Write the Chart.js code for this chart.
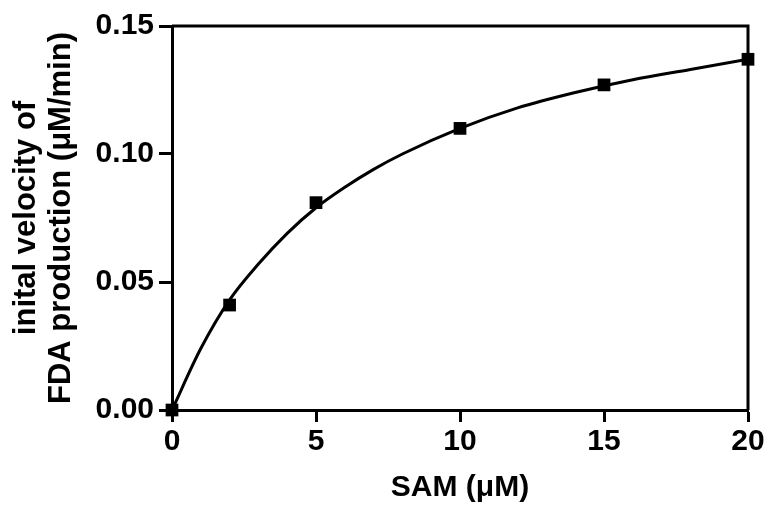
<!DOCTYPE html>
<html>
<head>
<meta charset="utf-8">
<script src="https://cdn.jsdelivr.net/npm/chart.js@4/dist/chart.umd.min.js"></script>
<style>
  html, body { margin: 0; padding: 0; background: #fff; }
  canvas { display: block; }
</style>
</head>
<body>
<canvas id="kinChart" width="768" height="508"></canvas>
<script>
// measured rates
const samConc = [0, 2, 5, 10, 15, 20];
const velocity = [0, 0.041, 0.081, 0.110, 0.127, 0.137];

// fitted saturation curve, sampled
const fitX = [0, 1, 2, 3, 4, 5, 6, 7, 8, 10, 12, 14, 16, 18, 20];
const fitY = [0, 0.024, 0.043, 0.057, 0.069, 0.079, 0.087, 0.094, 0.100, 0.110, 0.118, 0.124, 0.129, 0.133, 0.137];

const xTicks = [0, 5, 10, 15, 20];
const yTicks = [0, 0.05, 0.10, 0.15];

const FONT = "'Liberation Sans', Arial, sans-serif";

// draws the top and right frame lines
const framePlugin = {
  id: "frame",
  afterDatasetsDraw(chart) {
    const { ctx, chartArea: a } = chart;
    ctx.save();
    ctx.strokeStyle = "#000";
    ctx.lineWidth = 3;
    ctx.beginPath();
    ctx.moveTo(a.left, a.top);
    ctx.lineTo(a.right, a.top);
    ctx.lineTo(a.right, a.bottom);
    ctx.stroke();
    ctx.restore();
  }
};

const pts = (xs, ys) => xs.map((x, i) => ({ x: x, y: ys[i] }));

new Chart(document.getElementById("kinChart"), {
  type: "scatter",
  data: {
    datasets: [
      {
        label: "fit",
        data: pts(fitX, fitY),
        showLine: true,
        borderColor: "#000",
        borderWidth: 3,
        pointRadius: 0,
        cubicInterpolationMode: "monotone",
        fill: false
      },
      {
        label: "SAM",
        data: pts(samConc, velocity),
        pointStyle: "rect",
        pointRadius: 9,
        backgroundColor: "#000",
        borderColor: "#000",
        borderWidth: 0,
        showLine: false,
        clip: false
      }
    ]
  },
  options: {
    responsive: false,
    animation: false,
    layout: { padding: { top: 26, right: 20, left: 0, bottom: 0 } },
    plugins: {
      legend: { display: false },
      tooltip: { enabled: false }
    },
    scales: {
      x: {
        type: "linear",
        min: 0,
        max: 20,
        afterBuildTicks: s => { s.ticks = xTicks.map(v => ({ value: v })); },
        afterFit: s => { s.height = 98; },
        grid: { drawOnChartArea: false, tickLength: 12, tickWidth: 3, tickColor: "#000" },
        border: { color: "#000", width: 3 },
        ticks: { color: "#000", font: { family: FONT, size: 30, weight: "bold" }, padding: 2 },
        title: {
          display: true,
          text: "SAM (μM)",
          color: "#000",
          font: { family: FONT, size: 30, weight: "bold" },
          padding: { top: 0, bottom: 2 }
        }
      },
      y: {
        type: "linear",
        min: 0,
        max: 0.15,
        afterBuildTicks: s => { s.ticks = yTicks.map(v => ({ value: v })); },
        afterFit: s => { s.width = 172; },
        grid: { drawOnChartArea: false, tickLength: 13, tickWidth: 3, tickColor: "#000" },
        border: { color: "#000", width: 3 },
        ticks: {
          color: "#000",
          font: { family: FONT, size: 30, weight: "bold" },
          padding: 5,
          callback: v => v.toFixed(2)
        },
        title: {
          display: true,
          text: ["inital velocity of", "FDA production (μM/min)"],
          color: "#000",
          font: { family: FONT, size: 31, weight: "bold", lineHeight: 1.16 },
          padding: { top: 8, bottom: 0 }
        }
      }
    }
  },
  plugins: [framePlugin]
});
</script>
</body>
</html>
